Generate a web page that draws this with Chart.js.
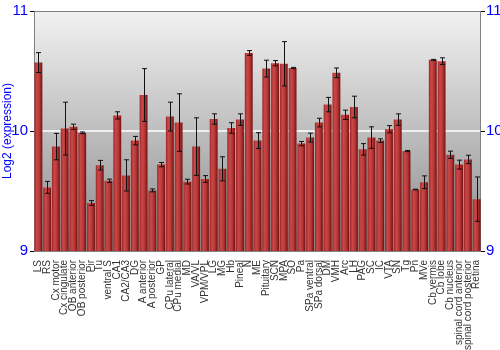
<!DOCTYPE html>
<html>
<head>
  <title>Log2 expression by region</title>
  <script src="https://cdn.jsdelivr.net/npm/chart.js"></script>
  <style>
    body { margin: 0; background: #fff; }
    #wrap { width: 500px; height: 350px; }
  </style>
</head>
<body>
  <div id="wrap"><canvas id="chart"></canvas></div>

  <script>
    // regions on the x axis
    const regions = ["LS", "RS", "Cx motor", "Cx cingulate", "OB anterior", "OB posterior", "Pir", "Tu",
      "ventral S", "CA1", "CA2/CA3", "DG", "A anterior", "A posterior", "GP", "CPu lateral", "CPu medial",
      "MD", "VA/VL", "VPM/VPL", "LG", "MG", "Hb", "Pineal", "N", "ME", "Pituitary", "SCN", "MPA", "SO",
      "Pa", "SPa ventral", "SPa dorsal", "DM", "VMH", "Arc", "LH", "PAG", "SC", "IC", "VTA", "SN", "Tg",
      "Pn", "MVe", "Cb vermis", "Cb lobe", "Cb nucleus", "spinal cord anterior", "spinal cord posterior", "Retina"];

    // mean log2 expression
    const means = [10.57, 9.53, 9.87, 10.02, 10.035, 9.985, 9.40, 9.715, 9.585, 10.13, 9.63, 9.92,
      10.30, 9.505, 9.72, 10.12, 10.07, 9.578, 9.87, 9.60, 10.10, 9.685, 10.025, 10.095, 10.65, 9.92,
      10.52, 10.565, 10.56, 10.525, 9.895, 9.945, 10.07, 10.22, 10.485, 10.135, 10.20, 9.847, 9.945,
      9.92, 10.015, 10.095, 9.833, 9.512, 9.573, 10.593, 10.582, 9.802, 9.72, 9.763, 9.432];

    // error (+/-)
    const errors = [0.083, 0.05, 0.11, 0.22, 0.022, 0.007, 0.02, 0.04, 0.014, 0.03, 0.13, 0.035,
      0.22, 0.012, 0.018, 0.12, 0.24, 0.02, 0.24, 0.028, 0.043, 0.10, 0.044, 0.048, 0.02, 0.066,
      0.07, 0.022, 0.185, 0.005, 0.018, 0.037, 0.036, 0.06, 0.04, 0.039, 0.09, 0.048, 0.09,
      0.015, 0.03, 0.048, 0.005, 0.003, 0.053, 0.004, 0.028, 0.03, 0.037, 0.035, 0.185];

    const yTicks = [9, 10, 11];

    const blue = "#0000ff";
    const font = "Liberation Sans, Arial, sans-serif";

    // gray gradient + frame behind the bars
    const backdrop = {
      id: "backdrop",
      beforeDatasetsDraw(chart) {
        const { ctx, chartArea: a } = chart;
        const g = ctx.createLinearGradient(0, a.top, 0, a.bottom);
        g.addColorStop(0, "#f2f2f2");
        g.addColorStop(1, "#8a8a8a");
        ctx.save();
        ctx.fillStyle = g;
        ctx.fillRect(a.left, a.top, a.right - a.left, a.bottom - a.top);
        // white line at 10
        const y10 = chart.scales.y.getPixelForValue(10);
        ctx.strokeStyle = "#ffffff";
        ctx.lineWidth = 1.5;
        ctx.beginPath();
        ctx.moveTo(a.left, y10);
        ctx.lineTo(a.right, y10);
        ctx.stroke();
        ctx.strokeStyle = "#808080";
        ctx.lineWidth = 1;
        ctx.strokeRect(a.left + 0.5, a.top + 0.5, a.right - a.left - 1, a.bottom - a.top);
        ctx.restore();
      }
    };

    // error bars drawn over each bar
    const errorBars = {
      id: "errorBars",
      afterDatasetsDraw(chart) {
        const { ctx } = chart;
        const y = chart.scales.y;
        const meta = chart.getDatasetMeta(0);
        ctx.save();
        ctx.strokeStyle = "#111111";
        ctx.lineWidth = 1;
        meta.data.forEach((bar, i) => {
          const x = Math.round(bar.x) + 0.5;
          const top = y.getPixelForValue(means[i] + errors[i]);
          const bot = y.getPixelForValue(means[i] - errors[i]);
          ctx.beginPath();
          ctx.moveTo(x, top); ctx.lineTo(x, bot);
          ctx.moveTo(x - 2.5, top); ctx.lineTo(x + 2.5, top);
          ctx.moveTo(x - 2.5, bot); ctx.lineTo(x + 2.5, bot);
          ctx.stroke();
        });
        ctx.restore();
      }
    };

    function barFill(context) {
      const chart = context.chart;
      const xs = chart.scales.x;
      if (!xs || !chart.chartArea) return "#b03030";
      const cx = xs.getPixelForValue(context.dataIndex);
      const w = xs.width / regions.length * 0.9;
      const g = chart.ctx.createLinearGradient(cx - w / 2, 0, cx + w / 2, 0);
      g.addColorStop(0, "#9c2626");
      g.addColorStop(0.3, "#cc4848");
      g.addColorStop(0.65, "#b53535");
      g.addColorStop(1, "#6e1010");
      return g;
    }

    new Chart(document.getElementById("chart"), {
      type: "bar",
      data: {
        labels: regions,
        datasets: [{
          data: means,
          backgroundColor: barFill,
          borderWidth: 0,
          barPercentage: 0.9,
          categoryPercentage: 1.0
        }]
      },
      options: {
        responsive: true,
        maintainAspectRatio: false,
        animation: false,
        layout: { padding: { top: 10, right: 0, left: 0, bottom: 0 } },
        plugins: {
          legend: { display: false },
          tooltip: { enabled: false }
        },
        scales: {
          x: {
            grid: { display: false },
            border: { display: false },
            ticks: {
              autoSkip: false,
              minRotation: 90,
              maxRotation: 90,
              color: "#333333",
              padding: 1,
              font: { family: font, size: 10 }
            },
            afterFit(s) { s.height = 99; }
          },
          y: {
            min: 9, max: 11,
            afterBuildTicks(s) { s.ticks = yTicks.map(v => ({ value: v })); },
            grid: { drawOnChartArea: false, drawTicks: true, tickLength: 4, tickColor: "#000000" },
            border: { display: false },
            ticks: {
              color: blue,
              padding: 2,
              font: { family: font, size: 15 }
            },
            title: {
              display: true,
              text: "Log2 (expression)",
              color: blue,
              padding: 0,
              font: { family: font, size: 12 }
            },
            afterFit(s) { s.width = 34; }
          },
          y2: {
            position: "right",
            min: 9, max: 11,
            afterBuildTicks(s) { s.ticks = yTicks.map(v => ({ value: v })); },
            grid: { drawOnChartArea: false, drawTicks: true, tickLength: 4, tickColor: "#000000" },
            border: { display: false },
            ticks: {
              color: blue,
              padding: 1,
              font: { family: font, size: 15 }
            },
            afterFit(s) { s.width = 19; }
          }
        }
      },
      plugins: [backdrop, errorBars]
    });
  </script>
</body>
</html>
